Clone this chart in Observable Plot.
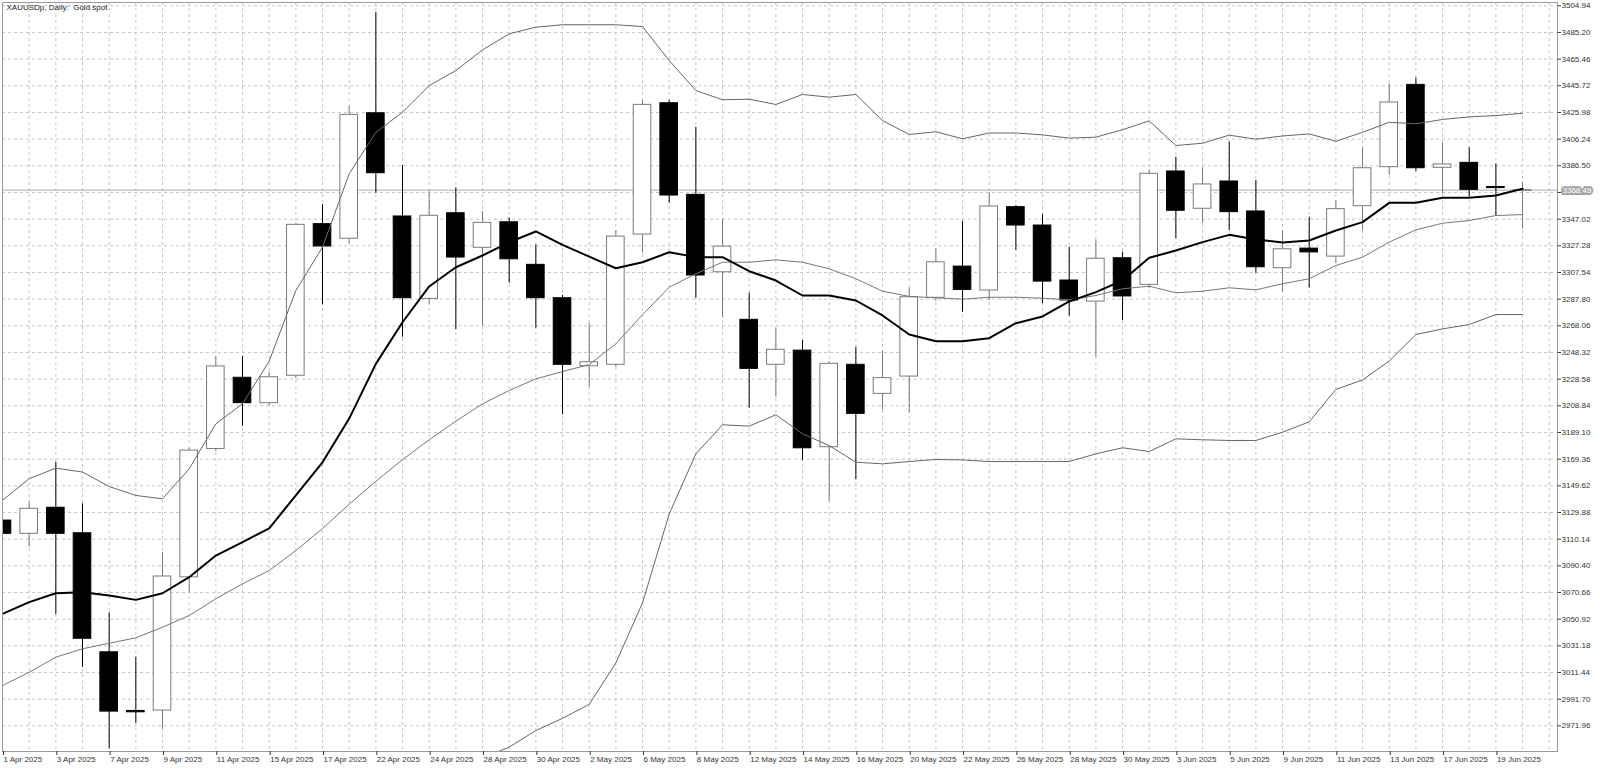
<!DOCTYPE html>
<html><head><meta charset="utf-8">
<script src="https://cdn.jsdelivr.net/npm/d3@7"></script>
<script src="https://cdn.jsdelivr.net/npm/@observablehq/plot@0.6"></script>
<style>
html,body{margin:0;padding:0;background:#fff;}
#chart svg{display:block}
</style></head><body><div id="chart"></div>
<script>
const title = "XAUUSDp, Daily:  Gold spot";
const dates = ["1 Apr 2025","2 Apr 2025","3 Apr 2025","4 Apr 2025","7 Apr 2025","8 Apr 2025","9 Apr 2025","10 Apr 2025","11 Apr 2025","14 Apr 2025",
"15 Apr 2025","16 Apr 2025","17 Apr 2025","21 Apr 2025","22 Apr 2025","23 Apr 2025","24 Apr 2025","25 Apr 2025","28 Apr 2025","29 Apr 2025",
"30 Apr 2025","1 May 2025","2 May 2025","5 May 2025","6 May 2025","7 May 2025","8 May 2025","9 May 2025","12 May 2025","13 May 2025",
"14 May 2025","15 May 2025","16 May 2025","19 May 2025","20 May 2025","21 May 2025","22 May 2025","23 May 2025","26 May 2025","27 May 2025",
"28 May 2025","29 May 2025","30 May 2025","2 Jun 2025","3 Jun 2025","4 Jun 2025","5 Jun 2025","6 Jun 2025","9 Jun 2025","10 Jun 2025",
"11 Jun 2025","12 Jun 2025","13 Jun 2025","16 Jun 2025","17 Jun 2025","18 Jun 2025","19 Jun 2025","20 Jun 2025"];

const open  = [3123.9,3114.1,3133.4,3114.5,3026.4,2983.0,2983.3,3081.9,3176.9,3229.6,
3210.8,3231.1,3343.3,3332.5,3425.4,3349.0,3288.0,3351.4,3325.8,3344.7,
3313.2,3288.5,3238.1,3239.2,3335.6,3432.8,3365.0,3307.7,3272.5,3239.2,
3249.7,3178.2,3239.2,3217.7,3230.5,3288.8,3311.9,3294.2,3355.9,3342.3,
3301.6,3286.0,3318.1,3298.4,3382.3,3354.7,3374.9,3352.7,3310.7,3325.2,
3319.3,3356.6,3385.5,3446.4,3385.0,3388.7,3370.8,3368.0];
const high  = [3140.0,3137.5,3167.1,3136.3,3055.6,3022.7,3100.0,3177.5,3245.4,3245.4,
3233.7,3344.0,3357.8,3430.4,3500.0,3386.7,3367.4,3370.2,3352.6,3348.0,
3328.0,3290.5,3270.0,3338.6,3434.8,3434.8,3415.1,3347.3,3292.2,3266.3,
3257.2,3241.5,3252.2,3249.3,3296.2,3325.0,3345.3,3366.5,3357.1,3350.4,
3326.3,3331.7,3322.5,3383.5,3392.9,3385.0,3404.0,3375.6,3338.6,3348.4,
3360.8,3399.5,3447.2,3451.6,3403.2,3399.8,3387.9,3374.4];
const low   = [3101.0,3104.2,3054.3,3015.3,2954.9,2973.9,2969.7,3070.9,3175.0,3193.5,
3209.0,3229.0,3283.6,3328.8,3366.2,3259.6,3284.0,3265.1,3268.0,3299.6,
3266.3,3202.2,3222.6,3237.0,3321.8,3358.8,3288.5,3274.0,3207.1,3215.2,
3168.3,3138.0,3154.1,3205.9,3203.4,3286.0,3278.1,3286.8,3323.8,3284.4,
3275.2,3244.8,3272.0,3295.5,3332.5,3344.0,3338.6,3307.0,3292.9,3296.0,
3314.4,3338.6,3379.3,3382.3,3365.8,3363.3,3349.7,3339.9];
const close = [3114.1,3132.6,3114.1,3036.4,2982.5,2982.0,3082.5,3175.7,3238.0,3210.8,
3230.0,3342.8,3326.8,3424.2,3381.0,3288.5,3349.5,3318.6,3344.3,3317.3,
3288.5,3239.2,3241.1,3334.1,3431.6,3364.5,3305.3,3326.7,3236.2,3250.3,
3177.4,3239.9,3202.9,3229.3,3289.2,3315.1,3294.6,3356.4,3342.3,3300.8,
3286.8,3317.7,3289.8,3380.6,3353.2,3372.7,3352.2,3311.4,3324.7,3322.4,
3354.4,3384.7,3433.4,3384.7,3387.5,3368.7,3370.0,3368.49];

const maLine = [3054.9,3063.5,3070.1,3070.9,3068.4,3065.2,3070.1,3082.0,3098.0,3107.9,
3118.2,3142.5,3167.0,3199.4,3239.9,3270.7,3297.2,3311.4,3320.1,3329.9,
3337.9,3328.0,3319.3,3310.7,3315.1,3322.5,3318.9,3318.9,3308.5,3301.6,
3290.5,3290.5,3286.8,3275.7,3261.6,3256.7,3256.7,3258.9,3270.0,3275.0,
3286.1,3293.0,3301.6,3318.4,3323.8,3330.0,3335.4,3331.9,3329.8,3331.2,
3338.6,3344.8,3359.1,3359.1,3362.8,3362.8,3364.5,3369.5];
const bandUpper = [3138.9,3154.9,3162.7,3159.8,3149.1,3142.5,3140.0,3162.2,3195.5,3210.3,
3241.9,3294.2,3326.3,3380.6,3411.2,3426.2,3445.9,3457.0,3472.3,3484.2,
3489.1,3490.9,3490.9,3490.9,3489.6,3464.4,3442.2,3435.4,3435.8,3431.9,
3439.3,3437.3,3439.3,3420.0,3409.7,3411.7,3406.5,3410.8,3410.8,3409.4,
3407.0,3407.7,3413.2,3419.8,3401.5,3403.2,3409.2,3406.2,3408.6,3410.1,
3404.7,3411.3,3418.7,3417.6,3420.8,3422.7,3423.7,3425.4];
const bandMiddle = [3001.8,3011.6,3022.8,3029.0,3033.1,3037.1,3045.0,3053.6,3066.0,3077.1,
3086.9,3101.7,3118.0,3136.0,3153.0,3169.0,3183.7,3197.5,3210.3,3220.2,
3228.8,3234.2,3239.4,3254.7,3276.3,3296.6,3306.6,3315.1,3315.1,3316.9,
3315.1,3310.3,3302.9,3293.7,3289.8,3288.8,3287.8,3289.2,3289.2,3288.5,
3287.3,3290.5,3295.5,3297.4,3292.5,3293.7,3296.2,3294.7,3299.2,3302.9,
3312.7,3318.9,3330.0,3339.1,3344.0,3346.0,3349.7,3350.4];
const bandLower = [null,null,null,null,null,null,null,null,null,null,
null,null,null,null,null,null,null,null,2948.3,2956.2,
2968.5,2977.5,2987.9,3018.5,3063.0,3128.8,3173.3,3194.8,3193.8,3202.2,
3188.1,3179.4,3167.1,3165.9,3167.6,3169.1,3168.8,3167.6,3167.6,3167.6,
3167.6,3173.3,3177.8,3175.0,3184.4,3183.7,3183.2,3183.2,3189.3,3197.0,
3221.0,3228.0,3242.0,3261.6,3265.8,3269.0,3276.4,3276.4];

const priceTicks = [2971.96,2991.70,3011.44,3031.18,3050.92,3070.66,3090.40,3110.14,3129.88,3149.62,
3169.36,3189.10,3208.84,3228.58,3248.32,3268.06,3287.80,3307.54,3327.28,3347.02,
3366.76,3386.50,3406.24,3425.98,3445.72,3465.46,3485.20,3504.94];
const bidPrice = 3368.49;
const bidLabel = "3368.49";

const bars = dates.map((d, i) => ({i, date: d, open: open[i], high: high[i], low: low[i], close: close[i], bull: close[i] >= open[i]}));
const lines = dates.map((d, i) => ({i, ma: maLine[i], up: bandUpper[i], mid: bandMiddle[i], lo: bandLower[i]}));
const dateTicks = dates.map((d, i) => i).filter(i => i % 2 === 0);
const gridBars = d3.range(0, dates.length + 1);

const bullColor = "#7a7a7a";
const gridStyle = {stroke: "#c6c6c6", strokeOpacity: 1, strokeDasharray: "3,3"};

const chart = Plot.plot({
  width: 1600, height: 769,
  marginLeft: 2, marginRight: 43, marginTop: 2, marginBottom: 18,
  x: {type: "linear", domain: [0, 58.31], axis: null, label: null},
  y: {type: "linear", domain: [2952.97, 3507.38], axis: null, label: null},
  style: {fontFamily: "'Liberation Sans', Arial, sans-serif", fontSize: "8px", background: "#fff", color: "#222"},
  marks: [
    Plot.gridY(priceTicks, gridStyle),
    Plot.gridX(gridBars, gridStyle),
    Plot.ruleY([bidPrice], {stroke: "#aaaaaa"}),
    Plot.ruleX(bars, {x: "i", y1: "low", y2: "high", stroke: d => d.bull ? bullColor : "#000", clip: true}),
    Plot.rect(bars, {x1: d => d.i - 0.33, x2: d => d.i + 0.33, y1: "open", y2: "close",
      fill: d => d.bull ? "#fff" : "#000", stroke: d => d.bull ? bullColor : "#000", clip: true}),
    Plot.line(lines, {x: "i", y: "up", stroke: "#666", strokeWidth: 1, clip: true}),
    Plot.line(lines, {x: "i", y: "mid", stroke: "#777", strokeWidth: 1, clip: true}),
    Plot.line(lines, {x: "i", y: "lo", stroke: "#666", strokeWidth: 1, clip: true}),
    Plot.line(lines, {x: "i", y: "ma", stroke: "#000", strokeWidth: 2, clip: true}),
    Plot.frame({stroke: "#9a9a9a"}),
    Plot.axisY(priceTicks, {anchor: "right", tickSize: 3, tickPadding: 1, tickFormat: d => d.toFixed(2), color: "#333"}),
    Plot.axisX(dateTicks, {anchor: "bottom", tickSize: 4, tickPadding: 1, tickFormat: i => dates[i], textAnchor: "start", dx: 1, color: "#333"}),
    Plot.text([bidPrice], {y: d => d, frameAnchor: "right", text: () => bidLabel, textAnchor: "start", dx: 5,
      fill: "#fff", stroke: "#a8a8a8", strokeWidth: 4, strokeLinejoin: "round"}),
    Plot.text([title], {frameAnchor: "top-left", text: d => d, dx: 4, dy: 2, lineAnchor: "top", fill: "#222"})
  ]
});
document.getElementById("chart").appendChild(chart);
</script>
</body></html>
